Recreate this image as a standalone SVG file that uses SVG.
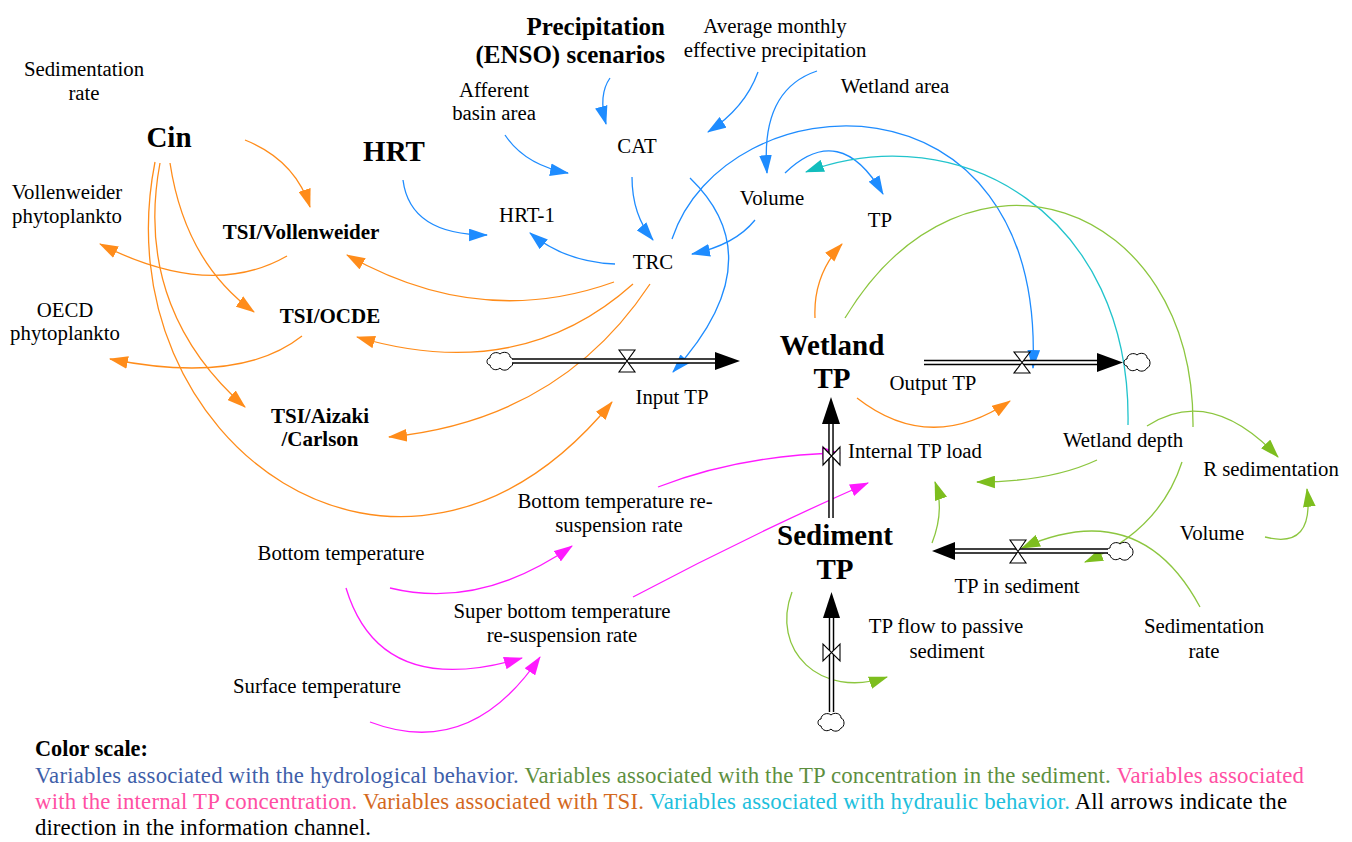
<svg xmlns="http://www.w3.org/2000/svg" width="1352" height="842" viewBox="0 0 1352 842">
<defs>
<style>
text{font-family:"Liberation Serif","Times New Roman",serif;fill:#000;}
.t{font-size:20.8px;text-anchor:middle;}
.b{font-size:21px;font-weight:bold;text-anchor:middle;}
.B{font-size:29px;font-weight:bold;text-anchor:middle;}
.c{fill:none;stroke-width:1.3;}
.blue{stroke:#1E8CFF;marker-end:url(#mb);}
.orange{stroke:#FF8C1A;marker-end:url(#mo);}
.green{stroke:#8CC63F;marker-end:url(#mg);}
.mag{stroke:#FF1AFF;marker-end:url(#mm);}
.cyan{stroke:#22C4CC;marker-end:url(#mc);}
.pipeo{fill:none;stroke:#000;stroke-width:5.5;}
.pipei{fill:none;stroke:#fff;stroke-width:2.6;}
.valve{fill:#fff;stroke:#000;stroke-width:1.1;}
.head{fill:#000;}
.cloud{fill:#fff;stroke:#000;stroke-width:1;}
.lg{font-size:22.8px;}
</style>
<marker id="mb" viewBox="0 0 18 12" refX="17" refY="6" markerWidth="19" markerHeight="13" markerUnits="userSpaceOnUse" orient="auto"><path d="M0,0 L18,6 L0,12 z" fill="#1E8CFF"/></marker>
<marker id="mo" viewBox="0 0 18 12" refX="17" refY="6" markerWidth="19" markerHeight="13" markerUnits="userSpaceOnUse" orient="auto"><path d="M0,0 L18,6 L0,12 z" fill="#FF8C1A"/></marker>
<marker id="mg" viewBox="0 0 18 12" refX="17" refY="6" markerWidth="19" markerHeight="13" markerUnits="userSpaceOnUse" orient="auto"><path d="M0,0 L18,6 L0,12 z" fill="#7DBE1E"/></marker>
<marker id="mm" viewBox="0 0 18 12" refX="17" refY="6" markerWidth="19" markerHeight="13" markerUnits="userSpaceOnUse" orient="auto"><path d="M0,0 L18,6 L0,12 z" fill="#FF1AFF"/></marker>
<marker id="mc" viewBox="0 0 18 12" refX="17" refY="6" markerWidth="19" markerHeight="13" markerUnits="userSpaceOnUse" orient="auto"><path d="M0,0 L18,6 L0,12 z" fill="#12BDBD"/></marker>
<path id="cl" d="M-10,4 C-14,4 -14,-3 -10,-3 C-10,-8 -3,-10 0,-7 C3,-10 10,-9 10,-4 C14,-3 14,5 10,6 C8,10 2,10 0,7 C-3,10 -9,9 -10,4 Z"/>
</defs>
<rect width="1352" height="842" fill="#fff"/>

<g id="connectors">
<!-- blue -->
<path class="c blue" d="M610,78 Q598,95 606,124"/>
<path class="c blue" d="M758,72 Q745,108 708,132"/>
<path class="c blue" d="M817,71 Q760,90 767,173"/>
<path class="c blue" d="M505,135 Q525,165 568,173"/>
<path class="c blue" d="M632,177 Q632,215 653,240"/>
<path class="c blue" d="M403,180 Q410,235 487,235"/>
<path class="c blue" d="M615,264 Q565,262 530,233"/>
<path class="c blue" d="M755,220 Q735,245 692,254"/>
<path class="c blue" d="M785,173 Q840,120 883,194"/>
<path class="c blue" d="M672,239 C725,80 1045,60 1033,368"/>
<path class="c blue" d="M690,178 Q775,260 673,372"/>
<!-- cyan -->
<path class="c cyan" d="M1128,425 C1132,215 960,115 806,172"/>
<!-- orange -->
<path class="c orange" d="M245,140 Q295,160 310,207"/>
<path class="c orange" d="M170,163 Q185,262 254,312"/>
<path class="c orange" d="M160,163 C140,270 180,350 245,407"/>
<path class="c orange" d="M155,162 C100,440 400,660 612,402"/>
<path class="c orange" d="M287,256 Q210,300 100,244"/>
<path class="c orange" d="M302,336 Q240,385 110,359"/>
<path class="c orange" d="M614,282 Q480,330 347,255"/>
<path class="c orange" d="M633,284 Q520,385 357,337"/>
<path class="c orange" d="M650,284 Q560,420 389,437"/>
<path class="c orange" d="M815,318 Q813,275 842,244"/>
<path class="c orange" d="M857,398 Q930,455 1010,401"/>
<!-- green -->
<path class="c" stroke="#8CC63F" d="M1193,427 C1195,200 965,120 845,318"/>
<path class="c green" d="M1097,460 Q1050,482 977,482"/>
<path class="c green" d="M1147,426 Q1210,385 1278,457"/>
<path class="c green" d="M1265,537 Q1315,550 1307,489"/>
<path class="c green" d="M1182,462 Q1160,530 1085,562"/>
<path class="c green" d="M1200,607 Q1140,495 1022,548"/>
<path class="c green" d="M932,543 Q945,510 935,482"/>
<path class="c green" d="M792,592 C770,650 820,700 887,677"/>
<!-- magenta -->
<path class="c mag" d="M658,487 Q740,455 840,453"/>
<path class="c mag" d="M633,597 Q750,535 868,483"/>
<path class="c mag" d="M390,588 Q480,610 572,546"/>
<path class="c mag" d="M346,588 Q380,700 522,658"/>
<path class="c mag" d="M370,722 Q470,760 540,657"/>
</g>

<g id="flow-input-tp">
<use href="#cl" class="cloud" x="500" y="361"/>
<path class="pipeo" d="M512,361 H717"/><path class="pipei" d="M511,361 H717"/>
<polygon class="head" points="715,352 740,361 715,370"/>
<path class="valve" d="M619,350 H635 L619,372 H635 Z"/>
<text class="t" x="672" y="404">Input TP</text>
</g>
<g id="flow-output-tp">
<path class="pipeo" d="M924,362.5 H1099"/><path class="pipei" d="M923,362.5 H1099"/>
<polygon class="head" points="1097,353 1123,362.5 1097,372"/>
<use href="#cl" class="cloud" x="1137" y="362"/>
<path class="valve" d="M1014,352 H1030 L1014,373 H1030 Z"/>
<text class="t" x="933" y="390">Output TP</text>
</g>
<g id="flow-internal-tp-load">
<path class="pipeo" d="M831,518 V423"/><path class="pipei" d="M831,519 V423"/>
<polygon class="head" points="822,424 831,397 840,424"/>
<path class="valve" d="M823,447 V465 L840,447 V465 Z"/>
<text class="t" x="915" y="458">Internal TP load</text>
</g>
<g id="flow-tp-in-sediment">
<use href="#cl" class="cloud" x="1120" y="551"/>
<path class="pipeo" d="M1108,551 H952"/><path class="pipei" d="M1109,551 H952"/>
<polygon class="head" points="955,542 932,551 955,560"/>
<path class="valve" d="M1010,540 H1026 L1010,563 H1026 Z"/>
<text class="t" x="1017" y="593">TP in sediment</text>
</g>
<g id="flow-tp-passive">
<use href="#cl" class="cloud" x="831" y="722"/>
<path class="pipeo" d="M831.5,712 V616"/><path class="pipei" d="M831.5,713 V616"/>
<polygon class="head" points="823,618 831.5,592 840,618"/>
<path class="valve" d="M823,644 V661 L840,644 V661 Z"/>
<text class="t" x="946" y="633">TP flow to passive</text>
<text class="t" x="947" y="658">sediment</text>
</g>

<g id="node-sedimentation-rate-left"><text class="t" x="84" y="76">Sedimentation</text><text class="t" x="84" y="100">rate</text></g>
<g id="node-cin"><text class="B" x="169" y="147">Cin</text></g>
<g id="node-hrt"><text class="B" x="394" y="161">HRT</text></g>
<g id="node-precipitation"><text x="665" y="35" font-size="25" font-weight="bold" text-anchor="end">Precipitation</text><text x="665" y="63" font-size="25" font-weight="bold" text-anchor="end">(ENSO) scenarios</text></g>
<g id="node-avg-precip"><text class="t" x="775" y="33">Average monthly</text><text class="t" x="775" y="57">effective precipitation</text></g>
<g id="node-afferent"><text class="t" x="494" y="97">Afferent</text><text class="t" x="494" y="120">basin area</text></g>
<g id="node-wetland-area"><text class="t" x="895" y="93">Wetland area</text></g>
<g id="node-cat"><text class="t" x="637" y="153">CAT</text></g>
<g id="node-hrt1"><text class="t" x="527" y="222">HRT-1</text></g>
<g id="node-volume"><text class="t" x="772" y="205">Volume</text></g>
<g id="node-tp"><text class="t" x="880" y="227">TP</text></g>
<g id="node-trc"><text class="t" x="653" y="269">TRC</text></g>
<g id="node-tsi-voll"><text class="b" x="301" y="239">TSI/Vollenweider</text></g>
<g id="node-voll-phyto"><text class="t" x="67" y="199">Vollenweider</text><text class="t" x="67" y="223">phytoplankto</text></g>
<g id="node-tsi-ocde"><text class="b" x="330" y="323">TSI/OCDE</text></g>
<g id="node-oecd-phyto"><text class="t" x="65" y="317">OECD</text><text class="t" x="65" y="340">phytoplankto</text></g>
<g id="node-tsi-aizaki"><text class="b" x="320" y="423">TSI/Aizaki</text><text class="b" x="320" y="446">/Carlson</text></g>
<g id="node-wetland-tp"><text class="B" x="832" y="355">Wetland</text><text class="B" x="832" y="388">TP</text></g>
<g id="node-sediment-tp"><text class="B" x="835" y="545">Sediment</text><text class="B" x="835" y="579">TP</text></g>
<g id="node-wetland-depth"><text class="t" x="1123" y="447">Wetland depth</text></g>
<g id="node-r-sed"><text class="t" x="1271" y="476">R sedimentation</text></g>
<g id="node-volume-right"><text class="t" x="1212" y="540">Volume</text></g>
<g id="node-sed-rate-right"><text class="t" x="1204" y="633">Sedimentation</text><text class="t" x="1204" y="658">rate</text></g>
<g id="node-btrr"><text class="t" x="615" y="508">Bottom temperature re-</text><text class="t" x="619" y="532">suspension rate</text></g>
<g id="node-bottom-temp"><text class="t" x="341" y="560">Bottom temperature</text></g>
<g id="node-sbtrr"><text class="t" x="562" y="618">Super bottom temperature</text><text class="t" x="562" y="642">re-suspension rate</text></g>
<g id="node-surface-temp"><text class="t" x="317" y="693">Surface temperature</text></g>

<g id="legend">
<text x="35" y="756" font-size="22.3" font-weight="bold">Color scale:</text>
<text class="lg" x="35" y="783" textLength="1269" lengthAdjust="spacing"><tspan fill="#3F5FA9">Variables associated with the hydrological behavior. </tspan><tspan fill="#5E8F3F">Variables associated with the TP concentration in the sediment. </tspan><tspan fill="#FF4FA3">Variables associated</tspan></text>
<text class="lg" x="35" y="809" textLength="1252" lengthAdjust="spacing"><tspan fill="#FF4FA3">with the internal TP concentration. </tspan><tspan fill="#D4691E">Variables associated with TSI. </tspan><tspan fill="#21BFDD">Variables associated with hydraulic behavior. </tspan><tspan fill="#000">All arrows indicate the</tspan></text>
<text class="lg" x="35" y="835" textLength="336" lengthAdjust="spacing">direction in the information channel.</text>
</g>
</svg>
